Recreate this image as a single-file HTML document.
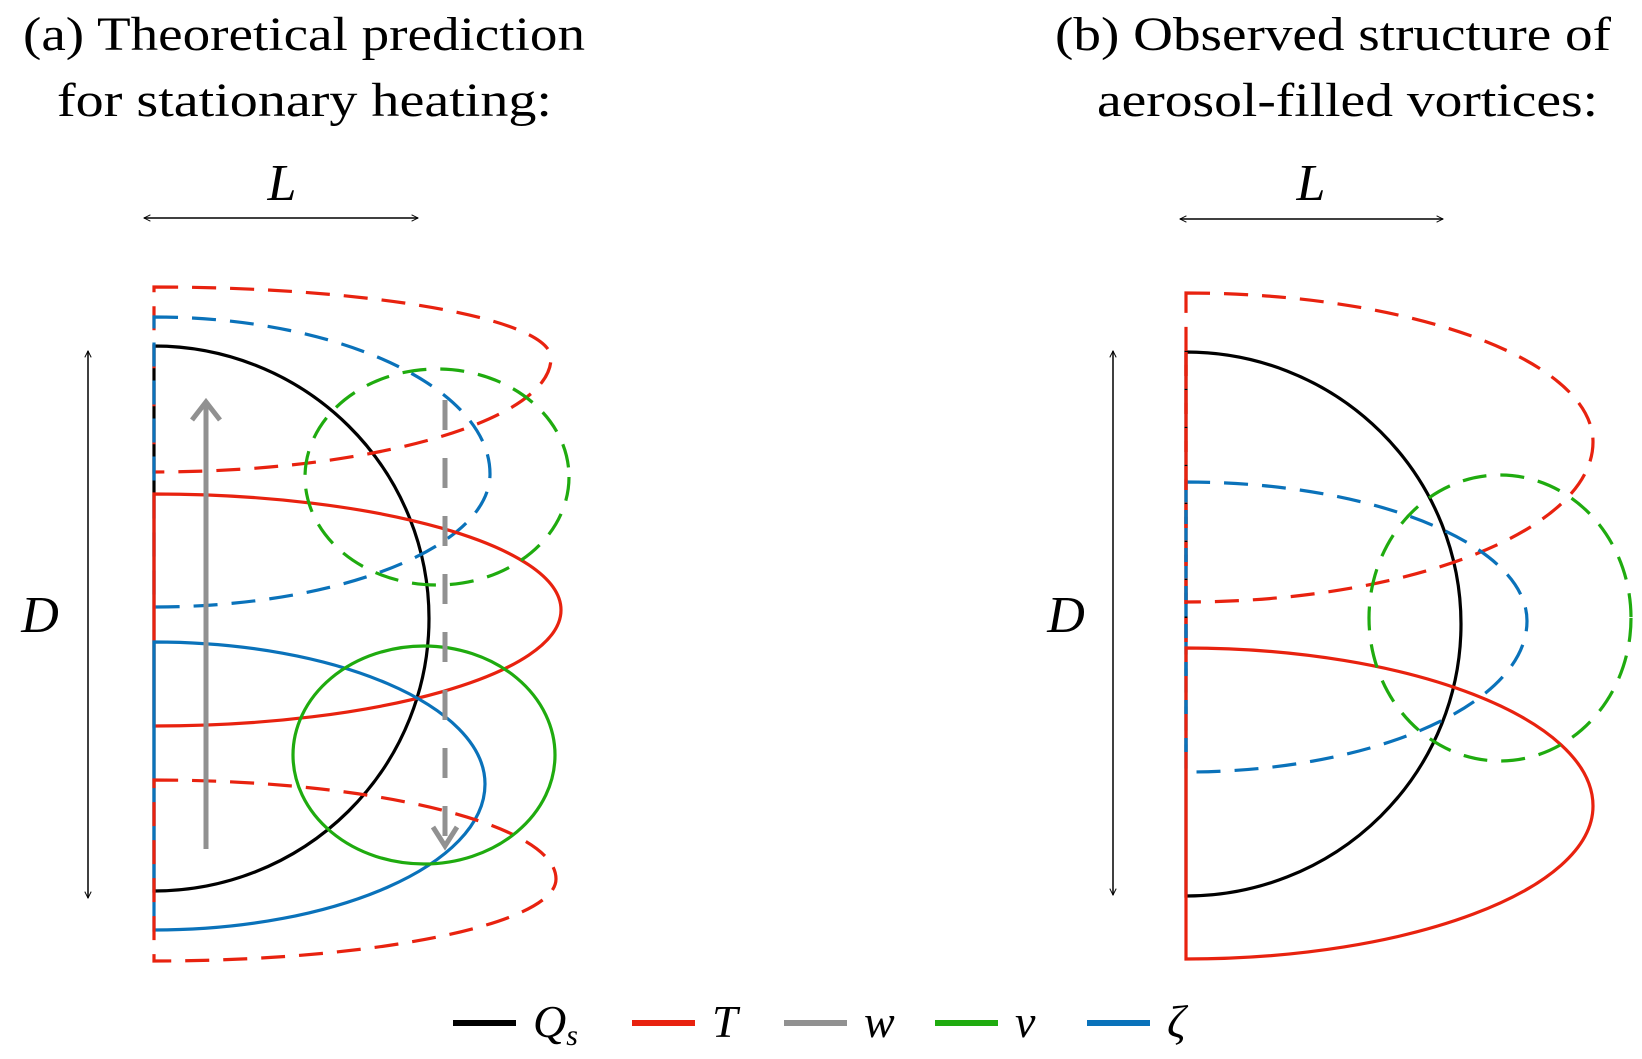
<!DOCTYPE html>
<html><head><meta charset="utf-8"><style>
html,body{margin:0;padding:0;background:#fff;}
svg{display:block;}
text{font-family:"Liberation Serif",serif;fill:#000;}
.it{font-style:italic;}
</style></head><body>
<svg id="fig" width="1642" height="1059" viewBox="0 0 1642 1059" xmlns="http://www.w3.org/2000/svg">
<defs>
<marker id="ah" viewBox="0 0 10 10" refX="9" refY="5" markerWidth="8" markerHeight="8" orient="auto-start-reverse" markerUnits="userSpaceOnUse"><path d="M1,1 L9,5 L1,9" fill="none" stroke="#000" stroke-width="1.2"/></marker>
</defs>
<text x="23" y="50" font-size="48" textLength="562" lengthAdjust="spacingAndGlyphs">(a) Theoretical prediction</text>
<text x="57" y="116" font-size="48" textLength="495" lengthAdjust="spacingAndGlyphs">for stationary heating:</text>
<text x="1055" y="50" font-size="48" textLength="556" lengthAdjust="spacingAndGlyphs">(b) Observed structure of</text>
<text x="1097" y="116" font-size="48" textLength="501" lengthAdjust="spacingAndGlyphs">aerosol-filled vortices:</text>
<g id="shapes"></g>
<g id="legend"></g>
</svg>
<script>
const NS='http://www.w3.org/2000/svg';
const g=document.getElementById('shapes');
const lg=document.getElementById('legend');
const colors={Q:'#000',T:'#e8220f',w:'#919191',v:'#1fab0f',z:'#0a72ba'};
// bullet shapes: [panel-left-x, top, tipY, bottom, rightX, color, dashed, name]
const bullets=[
 [154,287,358,472,551,'T',true,'a-temp-dashed-top'],
 [154,317,474,607,490,'z',true,'a-vort-dashed-top'],
 [154,494,610,726,561,'T',false,'a-temp-solid'],
 [154,642,784,930,485,'z',false,'a-vort-solid'],
 [154,780,879,961,556,'T',true,'a-temp-dashed-bottom'],
 [1186,293,442,602,1593,'T',true,'b-temp-dashed'],
 [1186,482,621,772,1527,'z',true,'b-vort-dashed'],
 [1186,648,806,959,1593,'T',false,'b-temp-solid']
];
// ellipses: [cx, cy, rx, ry, color, dashed, name]
const ellipses=[
 [437,477,132,108,'v',true,'a-vel-dashed'],
 [424,755,131,109,'v',false,'a-vel-solid'],
 [1500,618,131,143,'v',true,'b-vel-dashed']
];
// heating semicircles: [x0, top, bottom, rightX, name]
const heats=[[154,346,891,429,'a-heating'],[1186,352,896,1461,'b-heating']];
function el(t,a){const e=document.createElementNS(NS,t);for(const k in a)e.setAttribute(k,a[k]);return e;}
heats.forEach(h=>{
 const [x0,top,bot,xr,n]=h;const ry=(bot-top)/2,rx=xr-x0;
 const p=el('path',{d:`M${x0},${top} A${rx},${ry} 0 0 1 ${x0},${bot} Z`,fill:'none',stroke:'#000','stroke-width':3.2});
 
 
 g.appendChild(p);
});
bullets.forEach(b=>{
 const [x0,top,ty,bot,xr,c,d,n]=b;const w=xr-x0;
 const p=el('path',{d:`M${x0},${top} C${x0+0.55*w},${top} ${xr},${ty-(ty-top)*0.55} ${xr},${ty} C${xr},${ty+(bot-ty)*0.55} ${x0+0.55*w},${bot} ${x0},${bot} Z`,fill:'none',stroke:colors[c],'stroke-width':3.2,'stroke-dasharray':d?'24 14':'none'});
 
 
 g.appendChild(p);
});
ellipses.forEach(e=>{
 const [cx,cy,rx,ry,c,d,n]=e;
 const p=el('ellipse',{cx,cy,rx,ry,fill:'none',stroke:colors[c],'stroke-width':3.2,'stroke-dasharray':d?'24 14':'none'});
 
 
 g.appendChild(p);
});
// panel b left edge red dashes over black
const le=el('line',{x1:1186,y1:352,x2:1186,y2:648,stroke:colors.T,'stroke-width':3.4,'stroke-dasharray':'24 14'});


g.appendChild(le);
const le2=el('line',{x1:1186,y1:500,x2:1186,y2:772,stroke:colors.z,'stroke-width':3.4,'stroke-dasharray':'14 24','stroke-dashoffset':'-10'});


g.appendChild(le2);
// gray w arrows
const a1=el('path',{d:'M206,849 L206,404 M192,420 L206,402 L220,420',fill:'none',stroke:'#919191','stroke-width':5});


g.appendChild(a1);
const a2=el('path',{d:'M445,400 L445,846',fill:'none',stroke:'#919191','stroke-width':5,'stroke-dasharray':'30 28'});


g.appendChild(a2);
const a3=el('path',{d:'M433,827 L445,846 L457,827',fill:'none',stroke:'#919191','stroke-width':5});


g.appendChild(a3);
// dimension arrows
const dims=[[144,218,418,218,'a-width-arrow'],[88,351,88,898,'a-depth-arrow'],[1180,219,1443,219,'b-width-arrow'],[1113,351,1113,895,'b-depth-arrow']];
dims.forEach(d=>{
 const l=el('line',{x1:d[0],y1:d[1],x2:d[2],y2:d[3],stroke:'#000','stroke-width':1.5,'marker-start':'url(#ah)','marker-end':'url(#ah)'});
 
 
 g.appendChild(l);
});
const labels=[[282,200,'L','a-width-label'],[40,632,'D','a-depth-label'],[1311,200,'L','b-width-label'],[1066,632,'D','b-depth-label']];
labels.forEach(t=>{
 const x=el('text',{x:t[0],y:t[1],'font-size':52,'text-anchor':'middle',class:'it'});x.textContent=t[2];
 
 
 g.appendChild(x);
});
// legend
const legKeys=['Q','T','w','v','z'];
const legLabels=['Q','T','w','v','ζ'];
const legX=[453,632,784,935,1087];
legKeys.forEach((k,i)=>{
 const l=el('line',{x1:legX[i],y1:1023,x2:legX[i]+63,y2:1023,stroke:colors[k],'stroke-width':6});
 
 
 lg.appendChild(l);
 const t=el('text',{x:legX[i]+80,y:1037,'font-size':46,class:'it'});t.textContent=legLabels[i];
 if(k==='Q'){const s=el('tspan',{'font-size':30,dy:8});s.textContent='s';t.appendChild(s);}
 
 
 lg.appendChild(t);
});
</script>
</body></html>
